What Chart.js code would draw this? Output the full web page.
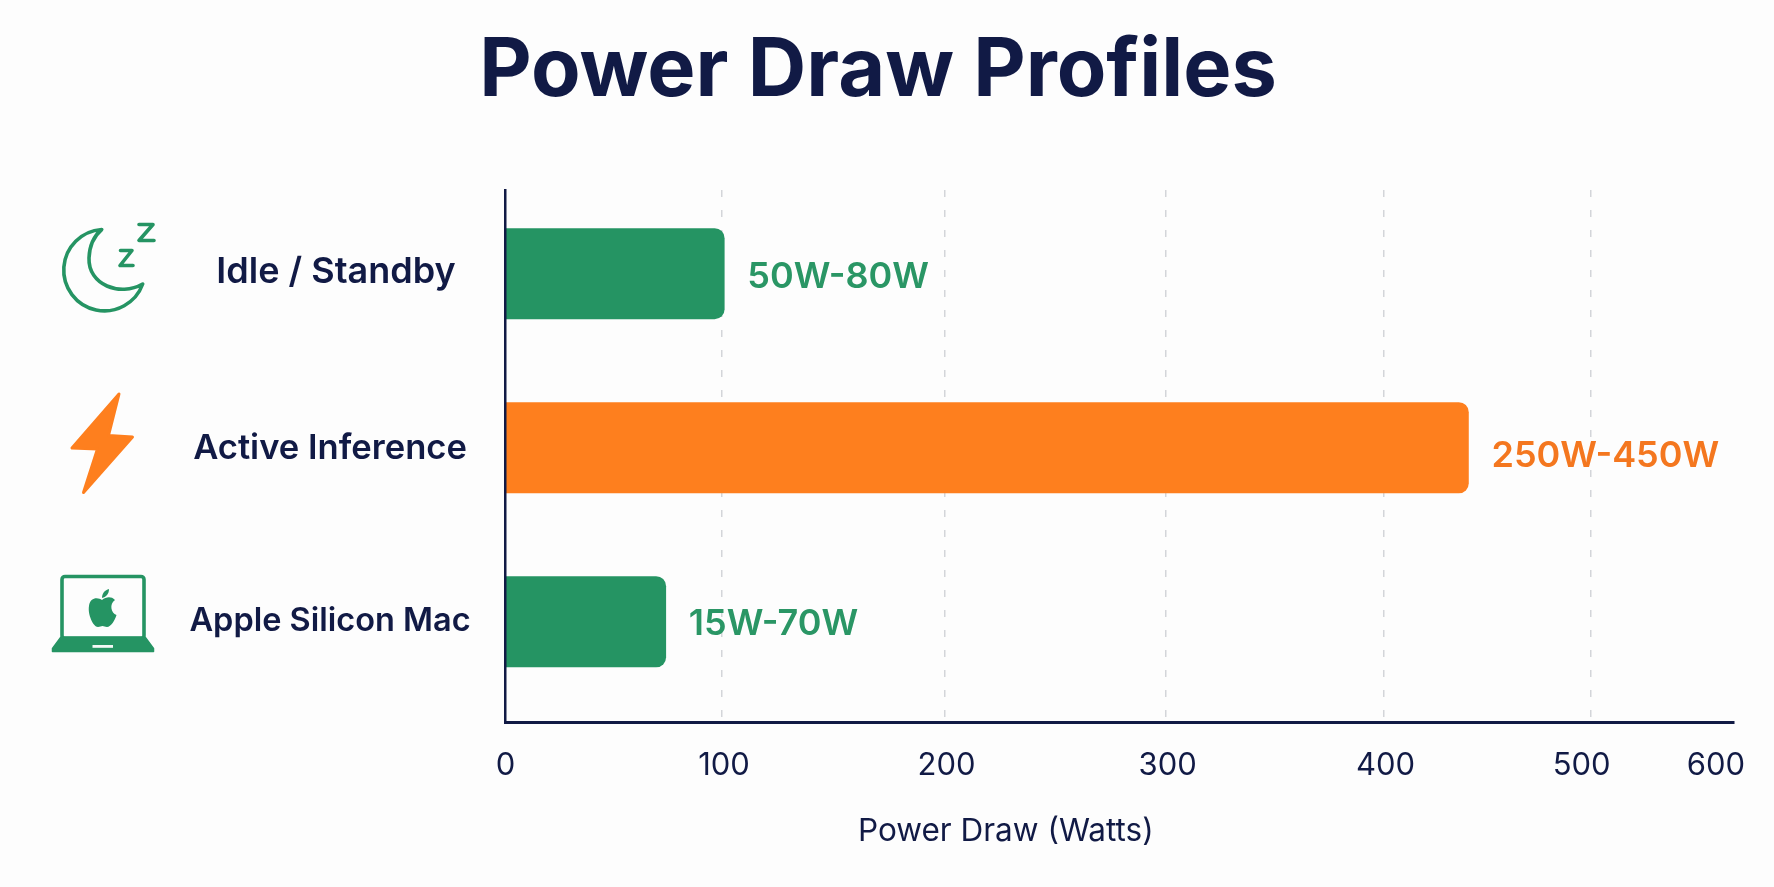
<!DOCTYPE html>
<html><head><meta charset="utf-8">
<style>html,body{margin:0;padding:0;background:#fdfdfd}canvas{display:block}</style>
<script src="https://cdn.jsdelivr.net/npm/chart.js@4"></script>
</head><body>
<canvas id="c" width="1774" height="887"></canvas>
<script>
const categories = ['Idle / Standby', 'Active Inference', 'Apple Silicon Mac'];
const categoryIndex = [0, 1, 2];
const drawWatts = [101, 441, 74];
const rangeLabels = ['50W-80W', '250W-450W', '15W-70W'];
const tickValues = [0, 100, 200, 300, 400, 500, 600];
const barColors = ['#259463', '#fe7f1e', '#259463'];
const labelColors = ['#2a9665', '#f4771f', '#2a9665'];

const NAVY = '#111a45';
const FONT = 'Inter, "Noto Sans", sans-serif';
const categoryFontSizes = [36, 34.6, 32.5];
const rangeLabelDy = [3, 8.5, 2.5];
// the reference axis has unevenly spaced ticks: fraction of axis length per axis value
const axisStops = [[0,0],[100,0.1762],[200,0.3573],[300,0.5373],[400,0.7147],[500,0.8833],[600,0.9853],[608,1]];
const tickNudges = {
  x: {100:[2,0],200:[2,0],300:[2,0],400:[2,0],500:[-9,0]},
  y: {0:[6,-2],1:[0,1],2:[0,-1]}
};
class NudgedLinear extends Chart.LinearScale {
  static id = 'nudgedLinear';
  static defaults = Chart.LinearScale.defaults;
  _computeLabelItems(area) {
    const items = super._computeLabelItems(area);
    items.forEach((it, i) => {
      const n = (tickNudges[this.id] || {})[this.ticks[i].value];
      if (n) it.options.translation = [it.options.translation[0] + n[0], it.options.translation[1] + n[1]];
    });
    return items;
  }
}
class UnevenAxis extends NudgedLinear {
  static id = 'unevenAxis';
  static defaults = Chart.LinearScale.defaults;
  getPixelForValue(v) {
    for (let i = 1; i < axisStops.length; i++) {
      const [a, fa] = axisStops[i-1], [b, fb] = axisStops[i];
      if (v <= b) return this.getPixelForDecimal(fa + (Math.max(v,a) - a) / (b - a) * (fb - fa));
    }
    return this.getPixelForDecimal(1);
  }
  getValueForPixel(p) {
    const d = this.getDecimalForPixel(p);
    for (let i = 1; i < axisStops.length; i++) {
      const [a, fa] = axisStops[i-1], [b, fb] = axisStops[i];
      if (d <= fb) return a + (d - fa) / (fb - fa) * (b - a);
    }
    return this.max;
  }
  drawTitle() {
    const c = this.ctx; c.save(); c.translate(-114, 0); super.drawTitle(); c.restore();
  }
}
Chart.register(NudgedLinear, UnevenAxis);

const rangeLabelPlugin = {
  id: 'rangeLabels',
  afterDatasetsDraw(chart) {
    const ctx = chart.ctx, meta = chart.getDatasetMeta(0);
    ctx.save();
    ctx.font = '600 36px ' + FONT;
    ctx.textBaseline = 'middle'; ctx.textAlign = 'left';
    meta.data.forEach((bar, i) => {
      ctx.fillStyle = labelColors[i];
      ctx.fillText(rangeLabels[i], bar.x + 23, bar.y + rangeLabelDy[i]);
    });
    ctx.restore();
  }
};
const iconPlugin = {
  id: 'icons',
  afterDraw(chart) {
    const ctx = chart.ctx;
    ctx.save();
    ctx.lineJoin = 'round'; ctx.lineCap = 'round';
    // moon and z's
    ctx.strokeStyle = barColors[0]; ctx.lineWidth = 3.6;
    ctx.stroke(new Path2D('M101.7 229.5A40.7 40.7 0 1 0 142.7 284C120 297 88 285 89 258C89.5 245 94 236 101.7 229.5Z'));
    ctx.stroke(new Path2D('M139 224.5H153L139 240.5H154'));
    ctx.stroke(new Path2D('M120.5 250.5H132L120 265.5H133'));
    // bolt
    ctx.fillStyle = barColors[1]; ctx.strokeStyle = barColors[1]; ctx.lineWidth = 3;
    const bolt = new Path2D('M119 394L72 448L97.5 449L83.5 492.5L132.5 437L108.5 435.5Z');
    ctx.fill(bolt); ctx.stroke(bolt);
    // laptop
    ctx.fillStyle = barColors[0]; ctx.strokeStyle = barColors[0]; ctx.lineWidth = 3.6;
    ctx.beginPath(); ctx.roundRect(62, 576.5, 82, 62, 3); ctx.stroke();
    ctx.lineWidth = 1.5;
    const base = new Path2D('M61 637H145L153.5 648.5V651.5H52.5V648.5Z');
    ctx.fill(base); ctx.stroke(base);
    ctx.fillStyle = '#f4f8f6'; ctx.fillRect(92.5, 645, 20.5, 2.8);
    ctx.fillStyle = barColors[0];
    ctx.fill(new Path2D('M102 600C98 597 90 597 89 606C87.5 614 93 627 98 627C100 627 101 626 102.5 626C104 626 105 627 107 627C111 627 115 620 116.5 615C111 613 109 604 115 600C111 596 106 597 102 600Z'));
    ctx.fill(new Path2D('M102 598C102 593 105 590 109 589C109 594 106 597 102 598Z'));
    ctx.restore();
  }
};

new Chart(document.getElementById('c'), {
  type: 'bar',
  data: {
    datasets: [{
      data: categoryIndex.map((y, i) => ({ x: drawWatts[i], y })),
      backgroundColor: barColors,
      barThickness: 90.5,
      borderSkipped: false,
      borderRadius: { topLeft: 0, bottomLeft: 0, topRight: 10, bottomRight: 10 }
    }]
  },
  plugins: [rangeLabelPlugin, iconPlugin],
  options: {
    indexAxis: 'y',
    responsive: false,
    devicePixelRatio: 1,
    animation: false,
    layout: { autoPadding: false, padding: { left: 22, right: 40, top: 0, bottom: 0 } },
    plugins: {
      legend: { display: false },
      tooltip: { enabled: false },
      title: {
        display: true,
        text: 'Power Draw Profiles',
        color: NAVY,
        font: { family: FONT, size: 81, weight: '700', lineHeight: 1.2 },
        padding: { top: 23, bottom: 69.8 }
      }
    },
    scales: {
      x: {
        type: 'unevenAxis',
        position: 'bottom',
        min: 0, max: 608,
        afterBuildTicks: s => { s.ticks = tickValues.map(value => ({ value })); },
        afterFit: s => { s.height = 164.3; },
        grid: {
          drawTicks: false,
          lineWidth: 1.5,
          color: c => (c.tick && (c.tick.value === 0 || c.tick.value === 600)) ? 'transparent' : '#d3d5d9'
        },
        border: { color: NAVY, width: 3, dash: [7, 13], z: 1 },
        ticks: {
          color: NAVY, padding: 24, autoSkip: false, maxRotation: 0,
          font: { family: FONT, size: 31, weight: '400' }
        },
        title: {
          display: true, text: 'Power Draw (Watts)', color: NAVY,
          font: { family: FONT, size: 31.5, weight: '400', lineHeight: 1.2 },
          padding: { top: 0, bottom: 37 }
        }
      },
      y: {
        type: 'nudgedLinear',
        position: 'left',
        reverse: true,
        offset: false,
        min: -0.481, max: 2.58,
        afterBuildTicks: s => { s.ticks = categoryIndex.map(value => ({ value })); },
        afterFit: s => { s.width = 483.6; },
        grid: { display: false, drawTicks: false },
        border: { color: NAVY, width: 2.5, z: 1 },
        ticks: {
          color: NAVY, padding: 35, crossAlign: 'center', autoSkip: false,
          callback: v => categories[v],
          font: c => ({ family: FONT, size: categoryFontSizes[c.index] || 32.5, weight: '600' })
        }
      }
    }
  }
});
</script>
</body></html>
